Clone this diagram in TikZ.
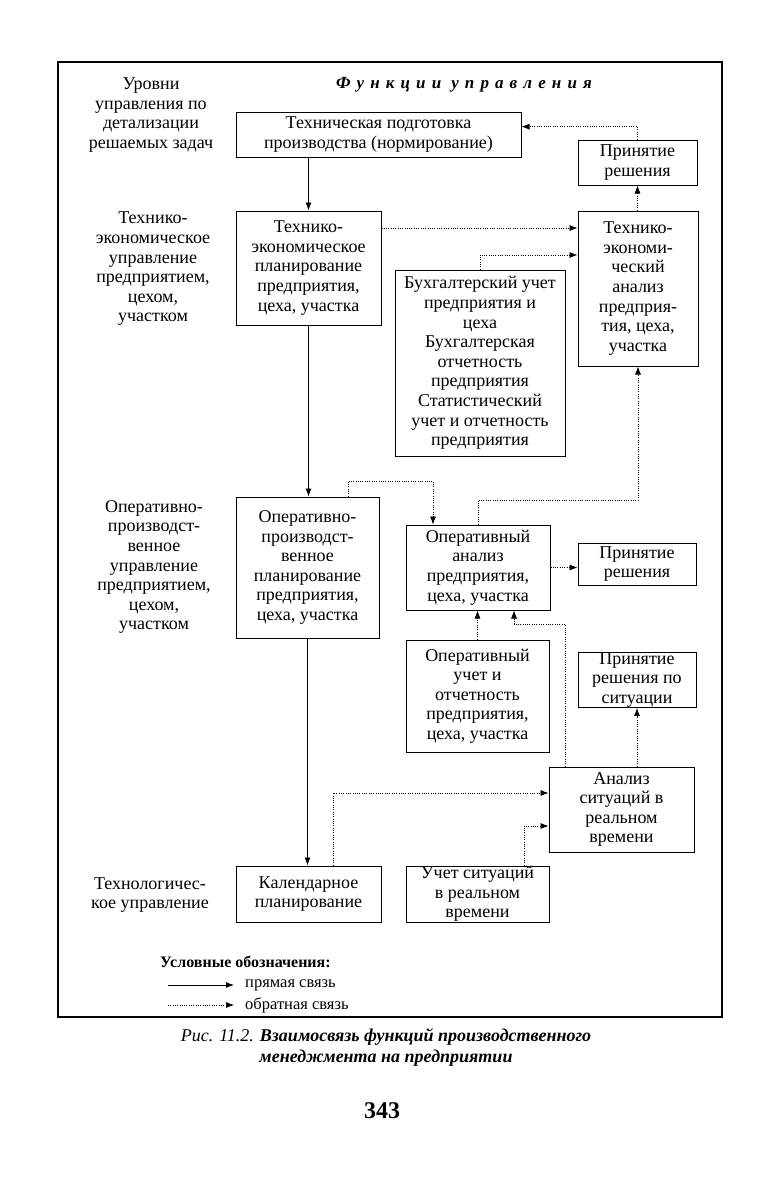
\documentclass[tikz,border=0pt]{standalone}
\usepackage{fontspec}
\setmainfont{Liberation Serif}
\newfontfamily\spacedfont[LetterSpace=36]{Liberation Serif}
\usetikzlibrary{arrows.meta,calc}
\newcommand\mainfs{\fontsize{18}{19.6}\selectfont}
\begin{document}
\begin{tikzpicture}[x=1pt,y=-1pt,
  box/.style={draw,line width=1pt,align=center,inner sep=0pt,font=\mainfs},
  lbl/.style={align=center,inner sep=0pt,font=\mainfs},
  fw/.style={line width=0.9pt,-{Latex[length=8pt,width=6pt]}},
  fb/.style={line width=0.65pt,dash pattern=on 1pt off 1.3pt,-{Latex[length=8pt,width=6pt]}}]
\useasboundingbox (0,0) rectangle (778,1181);
\fill[white] (0,0) rectangle (778,1181);
% frame
\draw[line width=1.5pt] (58,62) rectangle (722,1017);
% headers
\node[lbl] (hdr0) at (151,115) {Уровни\\управления по\\детализации\\решаемых задач};
\node[lbl,font=\fontsize{17}{19}\spacedfont\bfseries\itshape] (hdr1) at (464,85) {Функции\hspace{10pt}управления};
% left labels
\node[lbl] (lv1) at (153,269) {Технико-\\экономическое\\управление\\предприятием,\\цехом,\\участком};
\node[lbl] (lv2) at (154,567) {Оперативно-\\производст-\\венное\\управление\\предприятием,\\цехом,\\участком};
\node[lbl] (lv3) at (150,895) {Технологичес-\\кое управление};
% boxes
\node[box,minimum width=285,minimum height=45] (TP) at (378.5,134.5) {Техническая подготовка\\производства (нормирование)};
\node[box,minimum width=119,minimum height=45] (PR1) at (637.5,162.5) {Принятие\\решения};
\node[box,minimum width=145,minimum height=114] (TEplan) at (308.5,268) {Технико-\\экономическое\\планирование\\предприятия,\\цеха, участка};
\node[box,minimum width=120,minimum height=155] (TEa) at (638,288.5) {Технико-\\экономи-\\ческий\\анализ\\предприя-\\тия, цеха,\\участка};
\node[box,minimum width=170,minimum height=186] (Buh) at (480,363) {Бухгалтерский учет\\предприятия и\\цеха\\Бухгалтерская\\отчетность\\предприятия\\Статистический\\учет и отчетность\\предприятия};
\node[box,minimum width=143,minimum height=141] (OPplan) at (307.5,567.5) {Оперативно-\\производст-\\венное\\планирование\\предприятия,\\цеха, участка};
\node[box,minimum width=144,minimum height=85] (OA) at (478,567.5) {Оперативный\\анализ\\предприятия,\\цеха, участка};
\node[box,minimum width=118,minimum height=42] (PR2) at (637,564) {Принятие\\решения};
\node[box,minimum width=143,minimum height=112] (OU) at (477.5,696) {Оперативный\\учет и\\отчетность\\предприятия,\\цеха, участка};
\node[box,minimum width=118,minimum height=54] (PR3) at (637,680) {Принятие\\решения по\\ситуации};
\node[box,minimum width=145,minimum height=85] (AS) at (621.5,809.5) {Анализ\\ситуаций в\\реальном\\времени};
\node[box,minimum width=145,minimum height=56] (KP) at (308.5,894) {Календарное\\планирование};
\node[box,minimum width=143,minimum height=56] (US) at (477.5,894) {Учет ситуаций\\в реальном\\времени};
% direct links
\draw[fw] (TEplan.north |- TP.south) -- (TEplan.north);
\draw[fw] (TEplan.south) -- (TEplan.south |- OPplan.north);
\draw[fw] (OPplan.south) -- (OPplan.south |- KP.north);
% feedback links
\draw[fb] (PR1.north) |- ($(TP.north east)!0.33!(TP.south east)$);
\draw[fb] (PR1.south |- TEa.north) -- (PR1.south);
\draw[fb] (TEplan.east |- 0,228) -- (TEa.west |- 0,228);
\draw[fb] (Buh.north) |- (TEa.west |- 0,255);
\draw[fb] (OA.north) -- (OA.north |- 0,500) -| (TEa.south);
\draw[fb] (OPplan.north -| 348,0) -- (348,481) -| (OA.north -| 433,0);
\draw[fb] (OA.east) -- (OA.east -| PR2.west);
\draw[fb] (OU.north) -- (OU.north |- OA.south);
\draw[fb] (AS.north -| 565,0) -- (565,624) -| (OA.south -| 514,0);
\draw[fb] (PR3.south |- AS.north) -- (PR3.south);
\draw[fb] (KP.north -| 333,0) |- (AS.west |- 0,793);
\draw[fb] (US.north -| 524,0) |- (AS.west |- 0,826);
% legend
\node[lbl,anchor=west,font=\fontsize{16}{19}\selectfont\bfseries] (legt) at (160,962) {Условные обозначения:};
\coordinate (l1a) at (168,985); \coordinate (l1b) at (234,985);
\coordinate (l2a) at (168,1005); \coordinate (l2b) at (234,1005);
\draw[fw] (l1a) -- (l1b);
\draw[fb] (l2a) -- (l2b);
\node[lbl,anchor=west,font=\fontsize{16.5}{19}\selectfont] (leg1) at (245,985) {прямая связь};
\node[lbl,anchor=west,font=\fontsize{16.5}{19}\selectfont] (leg2) at (245,1005) {обратная связь};
% caption
\node[lbl,font=\fontsize{18}{21}\selectfont\itshape] (cap) at (386,1047) {Рис. 11.2. \textbf{Взаимосвязь функций производственного}\\\textbf{менеджмента на предприятии}};
\node[lbl,font=\fontsize{24}{26}\selectfont\bfseries] (pg) at (382,1111) {343};
\end{tikzpicture}
\end{document}
